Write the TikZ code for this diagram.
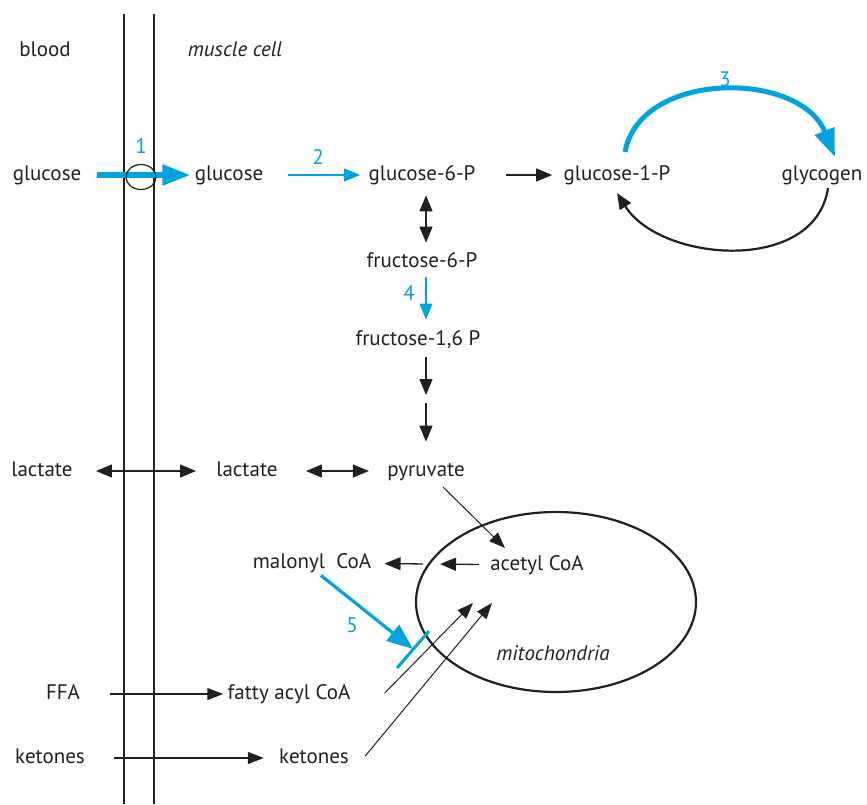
\documentclass[tikz,border=0pt]{standalone}
\usepackage{fontspec}
\setmainfont{PT Sans}
\usetikzlibrary{arrows.meta,calc,positioning,shapes.geometric}
\definecolor{MapInk}{HTML}{231F20}
\definecolor{MapBlue}{HTML}{00A3E0}
\tikzset{
  every node/.style={font=\fontsize{10.5}{12}\selectfont, text=MapInk},
  metab/.style={inner sep=1pt, text height=7.5pt, text depth=2.5pt},
  place/.style={metab, font=\fontsize{10.5}{12}\selectfont\itshape},
  enzlabel/.style={text=MapBlue, inner sep=0pt},
  membrane/.style={draw=MapInk, line width=0.65pt},
  flow/.style={-{Triangle[length=8pt,width=6.5pt]}, draw=MapInk, line width=0.65pt},
  twoway/.style={{Triangle[length=8pt,width=6.5pt]}-{Triangle[length=8pt,width=6.5pt]}, draw=MapInk, line width=0.65pt},
  entry/.style={-{Triangle[length=8pt,width=6pt]}, draw=MapInk, line width=0.5pt},
  bluestep/.style={-{Triangle[length=8pt,width=6.5pt]}, draw=MapBlue, line width=0.55pt},
  bluebig/.style={-{Triangle[length=14pt,width=10pt]}, draw=MapBlue, line width=2.6pt},
  blocker/.style={draw=MapBlue, line width=1.5pt},
}

\begin{document}
\begin{tikzpicture}[x=0.5pt,y=-0.5pt]
  \useasboundingbox (0,0) rectangle (867,804);

  % Cell membrane: two lines between blood and muscle cell
  \draw[membrane] (124,14) -- (124,804);
  \draw[membrane] (154,14) -- (154,804);
  \node[metab] (blood) at (45,51) {blood};
  \node[place] (cell) at (235,51) {muscle cell};

  % Metabolites
  \node[metab] (glcB) at (47,175) {glucose};
  \node[metab] (glcC) at (229,175) {glucose};
  \node[metab] (g6p) at (422,175) {glucose-6-P};
  \node[metab] (g1p) at (617,175) {glucose-1-P};
  \node[metab] (glyc) at (822,175) {glycogen};
  \node[metab] (f6p) at (422,262) {fructose-6-P};
  \node[metab] (f16p) at (418,340) {fructose-1,6 P};
  \node[metab] (lacB) at (42,471) {lactate};
  \node[metab] (lacC) at (247,471) {lactate};
  \node[metab] (pyr) at (426,471) {pyruvate};
  \node[metab] (mcoa) at (312,563) {malonyl\ \ CoA};
  \node[metab] (acoa) at (537,565) {acetyl CoA};
  \node[metab] (ffa) at (63,694) {FFA};
  \node[metab] (facoa) at (289,694) {fatty acyl CoA};
  \node[metab] (ketB) at (50,758) {ketones};
  \node[metab] (ketC) at (314,758) {ketones};

  % Mitochondrion
  \node[draw=MapInk, ellipse, line width=1.1pt, minimum width=140pt, minimum height=90pt] (mito) at (556,602) {};
  \node[place] (mitolabel) at (553,655) {mitochondria};

  % Glucose uptake (1)
  \draw[bluebig, line width=2.7pt, shorten <=6.5pt, shorten >=1pt] (glcB) -- (glcC);
  \node[draw=MapInk, ellipse, line width=0.6pt, inner sep=0pt, minimum width=15pt, minimum height=12.5pt] (glut) at (141,177) {};
  \node[enzlabel] (e1) at (141,146) {1};

  % Glucose to glycogen
  \draw[bluestep, shorten <=11pt, shorten >=3pt] (glcC) -- (g6p);
  \node[enzlabel] (e2) at (318,157) {2};
  \draw[flow, shorten <=14pt, shorten >=4.5pt] (g6p) -- (g1p);
  \draw[bluebig, line width=2.5pt] ([shift={(8,-23)}]g1p.center)
    .. controls ([shift={(23,-105)}]g1p.center) and ([shift={(-22,-105)}]glyc.center)
    .. ([shift={(13,-18)}]glyc.center);
  \node[enzlabel] (e3) at (725,79) {3};
  \draw[flow, line width=1.1pt] ([shift={(6,13)}]glyc.center)
    .. controls ([shift={(-7,100)}]glyc.center) and ([shift={(43,87)}]g1p.center)
    .. ([shift={(0,18)}]g1p.center);

  % Glycolysis
  \coordinate (axis) at (426,0);
  \coordinate (gap) at (426,399);
  \draw[twoway, shorten <=4pt, shorten >=3.5pt] (g6p.south -| axis) -- (f6p.north -| axis);
  \draw[bluestep, shorten <=1.5pt, shorten >=4pt] (f6p.south -| axis) -- (f16p.north -| axis);
  \node[enzlabel] (e4) at (409,293) {4};
  \draw[flow, shorten <=2.5pt, shorten >=2pt] (f16p.south -| axis) -- (gap);
  \draw[flow, shorten <=2pt, shorten >=8.5pt] (gap) -- (pyr.north -| axis);

  % Lactate exchange
  \draw[twoway, shorten <=10.5pt, shorten >=9pt] (lacB) -- (lacC);
  \draw[twoway, shorten <=13pt, shorten >=8pt] (lacC) -- (pyr);

  % Pyruvate into mitochondria, acetyl CoA out to malonyl CoA
  \draw[entry] ([shift={(17,16)}]pyr.center) -- ([shift={(-32,-17)}]acoa.center);
  \coordinate (mwall) at (431,564);
  \draw[flow, shorten <=4.5pt, shorten >=4.5pt] (acoa) -- (mwall);
  \draw[flow, shorten <=4pt, shorten >=5.5pt] (mwall) -- (mcoa);

  % Malonyl CoA blocks fatty acyl CoA entry (5)
  \coordinate (cpt) at (413,649);
  \draw[bluebig, line width=1.6pt, {-Triangle[length=13pt,width=10pt]}] ([xshift=4.5pt]mcoa.south) -- (cpt);
  \draw[blocker] ([shift={(-16,19)}]cpt) -- ([shift={(16,-18)}]cpt);
  \node[enzlabel] (e5) at (352,625) {5};

  % Fatty acids and ketones
  \draw[entry, line width=0.6pt, shorten <=14pt, shorten >=1pt] (ffa) -- (facoa);
  \draw[entry, line width=0.6pt, shorten <=13.5pt, shorten >=6.5pt] (ketB) -- (ketC);
  \draw[entry] ([shift={(32,-1)}]facoa.east) -- ([shift={(-83,1)}]mito.center);
  \draw[entry] ([shift={(14,-2)}]ketC.east) -- ([shift={(-64,1)}]mito.center);
\end{tikzpicture}
\end{document}
